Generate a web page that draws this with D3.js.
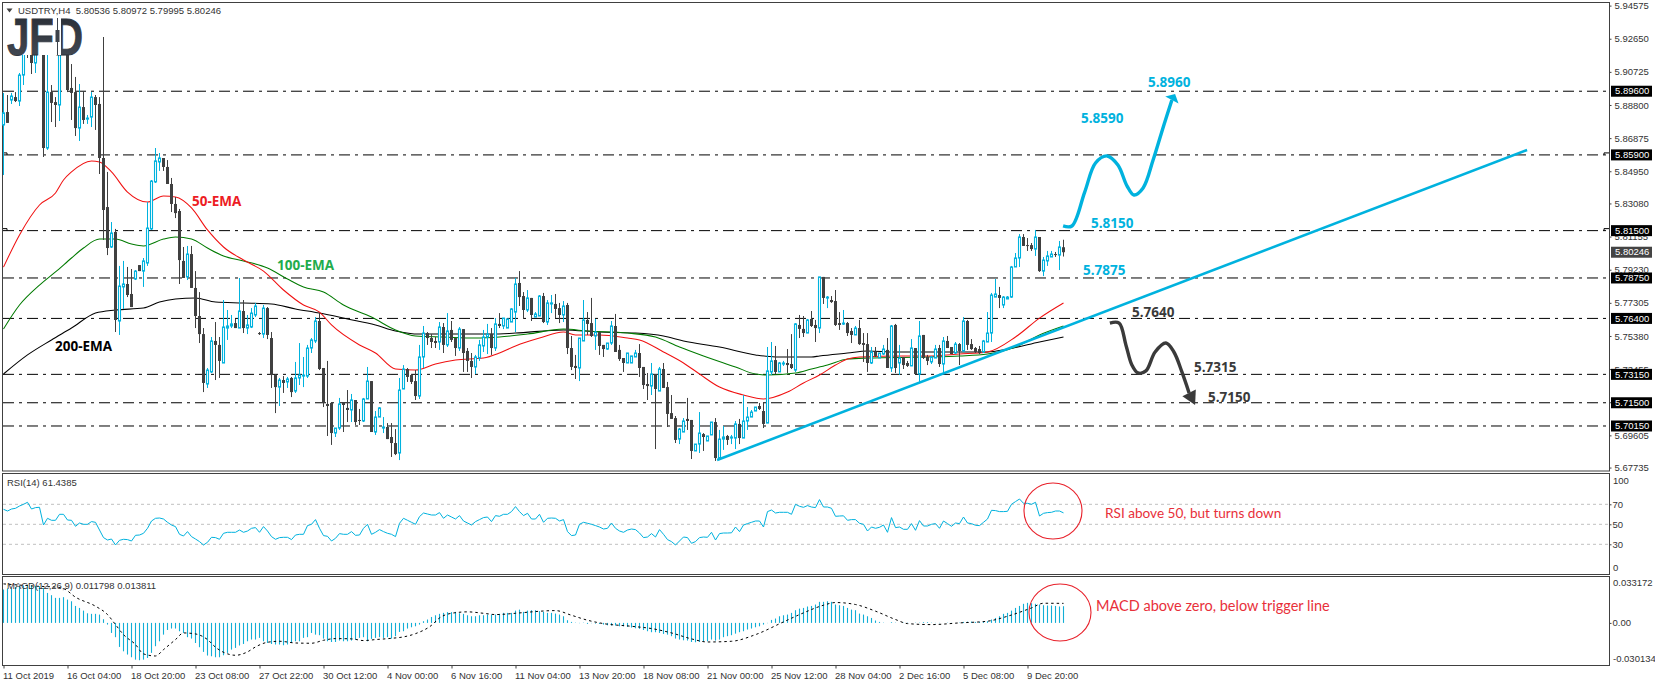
<!DOCTYPE html>
<html><head><meta charset="utf-8">
<style>html,body{margin:0;padding:0;background:#fff}svg{display:block}
text{font-family:"Liberation Sans",Arial,sans-serif}
.ax text{font-size:9.5px;fill:#333;font-family:"Liberation Sans",Arial,sans-serif}
.ax line,.ax path{stroke:#404040}
</style></head><body>
<script src="https://cdn.jsdelivr.net/npm/d3@7/dist/d3.min.js"></script>
<script>
const opens=[5.8764,5.8839,5.8909,5.8926,5.8903,5.9054,5.9316,5.9287,5.9124,5.9345,
5.9316,5.8630,5.8955,5.8897,5.8880,5.9316,5.9258,5.8979,5.8955,5.8746,
5.8868,5.8799,5.8810,5.8926,5.8886,5.8572,5.8287,5.8055,5.8142,5.7625,
5.7823,5.7840,5.7782,5.7869,5.7950,5.7915,5.7962,5.8160,5.8433,5.8549,
5.8572,5.8520,5.8421,5.8305,5.8264,5.7974,5.7881,5.8014,5.7817,5.7654,
5.7549,5.7259,5.7329,5.7509,5.7486,5.7381,5.7584,5.7596,5.7613,5.7584,
5.7683,5.7584,5.7590,5.7660,5.7555,5.7549,5.7700,5.7526,5.7311,5.7241,
5.7282,5.7271,5.7294,5.7218,5.7294,5.7305,5.7305,5.7468,5.7509,5.7625,
5.7352,5.7143,5.7149,5.6974,5.7003,5.7149,5.7120,5.7108,5.7166,5.7050,
5.7044,5.7172,5.7276,5.6980,5.7067,5.7003,5.7009,5.6951,5.6916,5.6858,
5.7230,5.7346,5.7311,5.7276,5.7189,5.7416,5.7555,5.7526,5.7509,5.7503,
5.7590,5.7486,5.7573,5.7526,5.7468,5.7578,5.7451,5.7393,5.7358,5.7410,
5.7480,5.7532,5.7549,5.7468,5.7608,5.7596,5.7584,5.7619,5.7677,5.7846,
5.7770,5.7689,5.7759,5.7648,5.7654,5.7770,5.7619,5.7724,5.7724,5.7700,
5.7660,5.7718,5.7468,5.7364,5.7352,5.7509,5.7631,5.7613,5.7538,5.7561,
5.7486,5.7462,5.7497,5.7596,5.7457,5.7410,5.7381,5.7381,5.7416,5.7439,
5.7358,5.7259,5.7247,5.7317,5.7218,5.7346,5.7241,5.7090,5.7061,5.6939,
5.6980,5.7056,5.7050,5.6870,5.6910,5.6968,5.6928,5.6963,5.7038,5.6829,
5.6939,5.6957,5.6945,5.6945,5.7027,5.6945,5.7044,5.7067,5.7102,5.7131,
5.7102,5.7032,5.7329,5.7398,5.7329,5.7375,5.7381,5.7375,5.7340,5.7602,
5.7579,5.7555,5.7637,5.7602,5.7584,5.7881,5.7759,5.7747,5.7741,5.7613,
5.7608,5.7613,5.7567,5.7544,5.7584,5.7497,5.7491,5.7381,5.7445,5.7410,
5.7433,5.7457,5.7352,5.7602,5.7381,5.7416,5.7381,5.7364,5.7468,5.7317,
5.7544,5.7416,5.7387,5.7410,5.7468,5.7375,5.7509,5.7474,5.7439,5.7491,
5.7451,5.7625,5.7491,5.7468,5.7462,5.7445,5.7503,5.7555,5.7764,5.7776,
5.7718,5.7753,5.7764,5.7939,5.7991,5.8113,5.8066,5.8066,5.8043,5.8113,
5.7915,5.7974,5.7997,5.8014,5.8008,5.80536];
const highs=[5.8950,5.8938,5.8950,5.8955,5.9066,5.9345,5.9345,5.9316,5.9287,5.9374,
5.9345,5.9229,5.8996,5.8926,5.9374,5.9362,5.9287,5.9118,5.9043,5.9002,
5.8961,5.8822,5.8955,5.8938,5.8926,5.9275,5.8491,5.8200,5.8160,5.7945,
5.7974,5.7939,5.7927,5.7921,5.7950,5.7991,5.8316,5.8444,5.8630,5.8601,
5.8572,5.8560,5.8456,5.8345,5.8276,5.8055,5.8061,5.8061,5.7915,5.7793,
5.7584,5.7352,5.7532,5.7619,5.7532,5.7747,5.7689,5.7660,5.7637,5.7875,
5.7747,5.7660,5.7700,5.7730,5.7561,5.7718,5.7706,5.7561,5.7317,5.7294,
5.7305,5.7300,5.7300,5.7387,5.7497,5.7416,5.7486,5.7526,5.7648,5.7671,
5.7352,5.7393,5.7149,5.7003,5.7178,5.7154,5.7224,5.7201,5.7166,5.7114,
5.7178,5.7358,5.7276,5.7102,5.7125,5.7067,5.7032,5.7032,5.6997,5.7294,
5.7369,5.7352,5.7317,5.7340,5.7486,5.7596,5.7561,5.7549,5.7532,5.7619,
5.7613,5.7671,5.7625,5.7526,5.7590,5.7578,5.7468,5.7439,5.7428,5.7515,
5.7573,5.7608,5.7584,5.7642,5.7671,5.7642,5.7637,5.7700,5.7875,5.7915,
5.7793,5.7805,5.7759,5.7677,5.7776,5.7788,5.7747,5.7776,5.7782,5.7730,
5.7741,5.7730,5.7538,5.7428,5.7526,5.7747,5.7677,5.7759,5.7637,5.7561,
5.7486,5.7497,5.7625,5.7666,5.7486,5.7410,5.7439,5.7422,5.7457,5.7491,
5.7358,5.7323,5.7381,5.7317,5.7358,5.7381,5.7271,5.7195,5.7073,5.7003,
5.7061,5.7178,5.7050,5.6910,5.7096,5.6974,5.6957,5.7038,5.7061,5.6992,
5.7015,5.6963,5.6963,5.7044,5.7056,5.7195,5.7125,5.7108,5.7125,5.7149,
5.7149,5.7474,5.7503,5.7480,5.7387,5.7393,5.7462,5.7549,5.7613,5.7660,
5.7654,5.7637,5.7683,5.7631,5.7881,5.7881,5.7770,5.7770,5.7805,5.7677,
5.7689,5.7619,5.7584,5.7596,5.7631,5.7555,5.7555,5.7474,5.7474,5.7439,
5.7486,5.7526,5.7602,5.7608,5.7486,5.7416,5.7393,5.7520,5.7468,5.7625,
5.7544,5.7428,5.7422,5.7486,5.7486,5.7532,5.7538,5.7474,5.7503,5.7497,
5.7648,5.7631,5.7520,5.7474,5.7480,5.7515,5.7677,5.7788,5.7869,5.7823,
5.7770,5.7770,5.7945,5.8020,5.8130,5.8130,5.8107,5.8078,5.8154,5.8113,
5.7997,5.8032,5.8032,5.8026,5.8090,5.80972];
const lows=[5.8473,5.8776,5.8886,5.8897,5.8874,5.8996,5.9153,5.9060,5.9066,5.9170,
5.8578,5.8619,5.8781,5.8752,5.8787,5.9170,5.8955,5.8793,5.8700,5.8671,
5.8770,5.8770,5.8752,5.8735,5.8479,5.8096,5.8008,5.8049,5.7561,5.7544,
5.7695,5.7764,5.7706,5.7863,5.7915,5.7823,5.7945,5.8154,5.8427,5.8497,
5.8497,5.8421,5.8258,5.8223,5.7840,5.7875,5.7863,5.7817,5.7584,5.7497,
5.7212,5.7236,5.7323,5.7282,5.7294,5.7381,5.7515,5.7584,5.7584,5.7584,
5.7555,5.7549,5.7584,5.7648,5.7544,5.7526,5.7520,5.7236,5.7090,5.7131,
5.7207,5.7236,5.7183,5.7207,5.7253,5.7241,5.7294,5.7439,5.7497,5.7340,
5.7125,5.6957,5.6905,5.6951,5.6992,5.6980,5.7038,5.7038,5.7021,5.7021,
5.7038,5.7172,5.6980,5.6963,5.7067,5.6974,5.6939,5.6835,5.6846,5.6817,
5.7230,5.7271,5.7259,5.7166,5.7172,5.7352,5.7486,5.7468,5.7468,5.7457,
5.7439,5.7474,5.7503,5.7422,5.7451,5.7329,5.7329,5.7294,5.7317,5.7393,
5.7445,5.7433,5.7428,5.7451,5.7584,5.7578,5.7584,5.7619,5.7561,5.7712,
5.7637,5.7677,5.7625,5.7648,5.7654,5.7613,5.7602,5.7671,5.7642,5.7613,
5.7619,5.7433,5.7340,5.7288,5.7276,5.7509,5.7544,5.7532,5.7457,5.7428,
5.7416,5.7457,5.7486,5.7445,5.7393,5.7329,5.7381,5.7381,5.7416,5.7300,
5.7230,5.7166,5.7195,5.6881,5.7218,5.7236,5.7009,5.7056,5.6916,5.6910,
5.6980,5.6992,5.6823,5.6870,5.6858,5.6870,5.6928,5.6963,5.6812,5.6817,
5.6876,5.6905,5.6910,5.6881,5.6910,5.6945,5.6992,5.7067,5.7102,5.7108,
5.7003,5.7032,5.7311,5.7317,5.7329,5.7364,5.7323,5.7346,5.7329,5.7526,
5.7532,5.7555,5.7590,5.7503,5.7555,5.7724,5.7700,5.7730,5.7596,5.7573,
5.7602,5.7538,5.7497,5.7544,5.7486,5.7387,5.7329,5.7375,5.7416,5.7410,
5.7428,5.7352,5.7329,5.7323,5.7311,5.7346,5.7358,5.7364,5.7317,5.7271,
5.7404,5.7369,5.7375,5.7410,5.7358,5.7323,5.7468,5.7433,5.7433,5.7369,
5.7445,5.7457,5.7457,5.7439,5.7433,5.7439,5.7503,5.7503,5.7764,5.7700,
5.7700,5.7753,5.7759,5.7939,5.7939,5.8061,5.8032,5.8032,5.8003,5.7910,
5.7886,5.7945,5.7997,5.7997,5.7921,5.79995];
const closes=[5.8834,5.8776,5.8932,5.8903,5.9054,5.9287,5.9200,5.9124,5.9258,5.9229,
5.8630,5.8955,5.8892,5.8880,5.9258,5.9200,5.8967,5.8950,5.8746,5.8868,
5.8793,5.8804,5.8926,5.8880,5.8572,5.8270,5.8049,5.8136,5.7631,5.7828,
5.7840,5.7776,5.7706,5.7915,5.7915,5.7974,5.8165,5.8438,5.8555,5.8572,
5.8520,5.8421,5.8305,5.8252,5.7979,5.7875,5.8014,5.7817,5.7654,5.7549,
5.7265,5.7340,5.7509,5.7486,5.7393,5.7590,5.7596,5.7608,5.7584,5.7683,
5.7584,5.7602,5.7671,5.7712,5.7549,5.7700,5.7544,5.7311,5.7241,5.7282,
5.7265,5.7288,5.7212,5.7294,5.7311,5.7311,5.7468,5.7515,5.7625,5.7346,
5.7149,5.7131,5.6974,5.7003,5.7143,5.7137,5.7108,5.7166,5.7038,5.7044,
5.7172,5.7276,5.6980,5.7067,5.7120,5.7009,5.6939,5.6916,5.6852,5.7224,
5.7346,5.7300,5.7271,5.7189,5.7416,5.7555,5.7526,5.7503,5.7497,5.7590,
5.7486,5.7567,5.7515,5.7468,5.7578,5.7439,5.7393,5.7358,5.7416,5.7486,
5.7532,5.7549,5.7468,5.7608,5.7596,5.7642,5.7637,5.7695,5.7840,5.7764,
5.7689,5.7759,5.7660,5.7666,5.7770,5.7619,5.7730,5.7730,5.7695,5.7660,
5.7712,5.7468,5.7358,5.7352,5.7526,5.7631,5.7608,5.7538,5.7561,5.7480,
5.7462,5.7497,5.7596,5.7445,5.7404,5.7381,5.7439,5.7422,5.7439,5.7352,
5.7253,5.7247,5.7317,5.7230,5.7346,5.7236,5.7085,5.7056,5.6934,5.6997,
5.7044,5.7044,5.6870,5.6910,5.6974,5.6951,5.6957,5.7038,5.6829,5.6939,
5.6951,5.6934,5.6951,5.7027,5.6945,5.7044,5.7067,5.7096,5.7125,5.7114,
5.7027,5.7335,5.7393,5.7329,5.7381,5.7381,5.7369,5.7352,5.7608,5.7579,
5.7555,5.7631,5.7596,5.7584,5.7881,5.7759,5.7764,5.7735,5.7602,5.7602,
5.7613,5.7555,5.7544,5.7584,5.7491,5.7486,5.7381,5.7445,5.7422,5.7439,
5.7462,5.7352,5.7596,5.7352,5.7410,5.7369,5.7364,5.7468,5.7317,5.7538,
5.7410,5.7393,5.7416,5.7462,5.7375,5.7509,5.7468,5.7433,5.7491,5.7451,
5.7625,5.7486,5.7462,5.7445,5.7439,5.7509,5.7555,5.7776,5.7782,5.7759,
5.7764,5.7764,5.7939,5.7991,5.8113,5.8061,5.8061,5.8043,5.8113,5.7915,
5.7979,5.8003,5.8014,5.8008,5.8055,5.80246];

const ema50Bars=[0,4,9,13,15,17,22,24,27,31,36,40,43,47,51,55,60,65,70,75,79,82,89,93,98,103,108,113,120,124,128,134,140,143,149,156,159,165,170,174,179,185,190,196,200,204,208,211,214,225,231,239,246,253,259,265];
const ema50=[5.7938,5.8125,5.8299,5.8369,5.8444,5.8491,5.8555,5.8549,5.8491,5.8374,5.8316,5.8351,5.8345,5.8282,5.8154,5.8055,5.7979,5.7915,5.7805,5.7718,5.7677,5.7602,5.7486,5.7439,5.7346,5.7340,5.7375,5.7398,5.7410,5.7439,5.7480,5.7526,5.7561,5.7544,5.7544,5.7526,5.7515,5.7445,5.7381,5.7317,5.7241,5.7195,5.7172,5.7212,5.7265,5.7311,5.7369,5.7404,5.7416,5.7422,5.7422,5.7433,5.7445,5.7532,5.7642,5.7730];
const ema100Bars=[0,4,9,13,17,20,24,28,32,35,40,43,47,51,55,60,66,71,75,80,85,92,98,103,110,118,124,131,140,146,156,163,169,175,183,188,191,198,202,206,211,216,231,239,246,253,259,265];
const ema100=[5.7579,5.7718,5.7834,5.7910,5.7991,5.8049,5.8101,5.8101,5.8072,5.8061,5.8101,5.8113,5.8101,5.8049,5.8003,5.7974,5.7933,5.7869,5.7823,5.7793,5.7718,5.7648,5.7573,5.7538,5.7532,5.7526,5.7532,5.7549,5.7578,5.7567,5.7555,5.7532,5.7474,5.7422,5.7358,5.7317,5.7311,5.7323,5.7346,5.7369,5.7404,5.7410,5.7416,5.7422,5.7433,5.7474,5.7544,5.7596];
const ema200Bars=[0,6,12,17,23,28,35,39,43,48,53,60,67,73,79,86,93,98,104,112,122,128,140,149,158,165,170,179,188,193,202,204,211,216,223,234,246,251,259,265];
const ema200=[5.7317,5.7428,5.7515,5.7584,5.7671,5.7689,5.7700,5.7735,5.7753,5.7759,5.7735,5.7730,5.7724,5.7695,5.7671,5.7637,5.7602,5.7567,5.7549,5.7549,5.7549,5.7555,5.7573,5.7561,5.7555,5.7538,5.7509,5.7474,5.7428,5.7416,5.7416,5.7422,5.7439,5.7451,5.7445,5.7445,5.7445,5.7462,5.7503,5.7532];

const rsi=[65,63.3,65.3,66,68.3,70,72,65.3,66.7,67,49.3,56,54,54,60,60,54.3,54,48,51.3,
50,50,52.7,52,44.3,36.7,34.3,35.3,29.3,34,35,34.7,33.3,39,39.3,41,46,53.3,56,56.3,
55.3,52,49.3,47.7,40,38.3,42.7,37.7,35.3,32.7,29.3,32,37,36.7,35,41,42,42,42,44.3,
42,43.3,46,46.7,42,47.7,43.3,37.7,35,36.7,37,37,34.7,39.3,40,40,48.7,50,54.7,46,
38.7,38,33.3,36,40.7,40,40,42.7,39,39.3,46,50,40,42,44.7,42.7,41,40,37.7,51,
56,54,52,50,57.7,61.3,60.3,59.3,59.3,61.7,56,59.3,57.3,55.3,58.7,53.3,51.3,49.3,52.7,54.7,
56.7,57.3,52.7,58.7,58,60,60,62.7,67.7,62.7,
58.7,61,55.3,55.3,60,52,56,56.3,56,53.3,54.7,42.7,38.7,39.3,50,52,51,50,48.7,47.3,
45.3,46,51.3,46,43.3,42,44.3,45.3,44.7,41.3,36.7,37.3,40.7,37.3,44.7,40,34.7,32.7,29.3,33.3,
37.3,36.7,31,32.7,36.7,37.3,37,42,34.3,40.7,41.3,41.3,41.5,47.3,42.7,49.3,50.7,52,53.3,53.3,
47.3,62.7,64.3,61.3,62,62,62,60,70,68,67,68.7,67.3,66.7,74.7,67.3,67.3,66,58,58.3,
58.5,54,54.7,54.7,51,50,43.3,47.3,46,47,49.3,42,56.7,46.7,47.3,45,45,50.7,44,53.7,
48.3,48.3,50,50.7,46,53.3,50.7,48,51.3,50.7,57.3,51.3,50.7,49,48.7,52,55.3,64,63.7,62.7,
62.7,63,70,72.7,75.3,71,71,70,72,58.3,61,61.7,62,63.3,63.3,61.4385];

const macdHist=[.0236,.0243,.0248,.0253,.0260,.0264,.0264,.0264,.0260,.0260,.0248,.0212,.0196,.0177,.0177,.0182,.0165,.0153,.0120,.0106,
.0087,.0068,.0064,.0064,.0059,.0026,-.0012,-.0071,-.0101,-.0170,-.0201,-.0224,-.0243,-.0260,-.0264,-.0260,-.0248,-.0212,-.0165,-.0130,
-.0083,-.0050,-.0040,-.0040,-.0059,-.0071,-.0101,-.0111,-.0142,-.0172,-.0205,-.0231,-.0236,-.0243,-.0243,-.0229,-.0212,-.0189,-.0177,-.0160,
-.0149,-.0130,-.0118,-.0118,-.0106,-.0130,-.0142,-.0149,-.0153,-.0153,-.0158,-.0153,-.0142,-.0130,-.0130,-.0106,-.0101,-.0071,-.0083,-.0087,
-.0111,-.0130,-.0135,-.0135,-.0125,-.0130,-.0130,-.0125,-.0118,-.0106,-.0101,-.0130,-.0113,-.0106,-.0101,-.0106,-.0101,-.0111,-.0094,-.0064,
-.0059,-.0040,-.0031,-.0024,-.0012,.0012,.0024,.0042,.0054,.0064,.0071,.0076,.0076,.0078,.0068,.0064,.0054,.0047,.0047,.0054,
.0054,.0059,.0059,.0059,.0064,.0071,.0071,.0071,.0087,.0094,
.0078,.0087,.0090,.0090,.0083,.0078,.0071,.0071,.0066,.0059,.0047,.0019,.0007,.0002,-.0002,.0002,-.0007,-.0002,-.0005,-.0007,
-.0012,-.0017,-.0019,-.0019,-.0024,-.0024,-.0028,-.0033,-.0038,-.0042,-.0050,-.0059,-.0066,-.0066,-.0071,-.0078,-.0083,-.0094,-.0111,-.0118,
-.0123,-.0125,-.0135,-.0137,-.0135,-.0130,-.0130,-.0118,-.0125,-.0118,-.0101,-.0094,-.0087,-.0076,-.0066,-.0059,-.0047,-.0040,-.0031,-.0024,
-.0012,-.0002,.0021,.0031,.0047,.0054,.0059,.0071,.0090,.0101,.0106,.0116,.0120,.0130,.0149,.0149,.0153,.0149,.0130,.0125,
.0120,.0106,.0094,.0090,.0066,.0059,.0047,.0035,.0017,.0007,.0002,0,.0005,.0002,0,.0002,.0002,0,.0002,.0002,
.0005,.0005,.0002,-.0002,-.0002,0,.0002,-.0002,0,.0002,.0007,.0009,.0009,.0007,.0007,.0009,.0012,.0024,.0035,.0047,
.0064,.0071,.0087,.0106,.0120,.0135,.0142,.0139,.0135,.0130,.0125,.0123,.0123,.0120,.0116,.011798];
const signalBars=[0,8,13,15,18,23,26,28,30,33,35,38,40,43,45,48,51,53,56,58,61,63,66,69,73,77,80,83,87,90,93,97,100,103,107,109,112,116,120,123,128,130,138,142,146,150,157,162,167,172,176,182,188,195,200,205,208,213,218,223,226,232,239,246,251,257,260,265];
const signal=[.0276,.0260,.0253,.0243,.0182,.0118,.0059,-.0012,-.0083,-.0153,-.0219,-.0234,-.0189,-.0118,-.0071,-.0078,-.0118,-.0172,-.0219,-.0229,-.0205,-.0170,-.0137,-.0130,-.0142,-.0144,-.0123,-.0111,-.0113,-.0125,-.0118,-.0109,-.0099,-.0076,-.0017,.0035,.0068,.0078,.0068,.0059,.0068,.0073,.0087,.0054,.0019,-.0005,-.0024,-.0040,-.0071,-.0113,-.0135,-.0130,-.0083,.0007,.0071,.0125,.0144,.0130,.0083,.0024,-.0005,-.0012,0,.0012,.0047,.0106,.0139,.013811];

const levels=[5.8960,5.8590,5.8150,5.7875,5.7640,5.7315,5.7150,5.7015];
const priceTicks=[5.94575,5.92650,5.90725,5.88800,5.86875,5.84950,5.83080,5.81155,5.79230,5.77305,5.75380,5.73455,5.71530,5.69605,5.67735];
const timeTickBars=[0,16,32,48,64,80,96,112,128,144,160,176,192,208,224,240,256];
const timeLabels=["11 Oct 2019","16 Oct 04:00","18 Oct 20:00","23 Oct 08:00","27 Oct 22:00","30 Oct 12:00","4 Nov 00:00","6 Nov 16:00","11 Nov 04:00","13 Nov 20:00","18 Nov 08:00","21 Nov 00:00","25 Nov 12:00","28 Nov 04:00","2 Dec 16:00","5 Dec 08:00","9 Dec 20:00"];
const rsiLevels=[70,50,30];
const trendBars=[178.4,380.9];
const trendPrices=[5.6817,5.8619];
const upArrowBars=[264.9,267.1,270.3,273,275.9,278.6,280.9,282.6,284.9,287.4,290.1,292.1];
const upArrowPrices=[5.8177,5.8177,5.8374,5.8543,5.8584,5.8531,5.8409,5.8357,5.8398,5.8560,5.8764,5.8909];
const upArrowTip=[292.9,5.8944];
const downArrowBars=[276.6,278.9,280.6,282.1,283.6,285.6,287.9,290.6,292.6,294.6,296.4];
const downArrowPrices=[5.7613,5.7613,5.7486,5.7369,5.7323,5.7335,5.7445,5.7497,5.7445,5.7329,5.7207];
const downArrowTip=[297.9,5.7137];

const W=1655,H=686,BLUE="#00b2de",DARK="#404040",R={l:2.5,r:1609.5};
const svg=d3.select("body").append("svg").attr("width",W).attr("height",H).attr("viewBox",`0 0 ${W} ${H}`);
const x=d3.scaleLinear().domain([0,400]).range([3.5,1603.5]);
const y=d3.scaleLinear().domain([5.94755,5.67535]).range([2.5,471]);
const yR=d3.scaleLinear().domain([0,100]).range([574.3,474.3]);
const yM=d3.scaleLinear().domain([-.030134,.033172]).range([665.5,576]);

// panels
[[2.5,471],[473.5,574.5],[576.5,665.5]].forEach(([a,b])=>{
  svg.append("rect").attr("x",R.l).attr("y",a).attr("width",R.r-R.l).attr("height",b-a).attr("fill","#fff").attr("stroke",DARK).attr("stroke-width",1);
});

// horizontal levels
svg.append("g").selectAll("line").data(levels).join("line")
 .attr("x1",3).attr("x2",R.r-1).attr("y1",d=>y(d)).attr("y2",d=>y(d))
 .attr("stroke","#000").attr("stroke-width",1).attr("stroke-dasharray","11,5,3,5");
[5.8590,5.8150].forEach(v=>{
  svg.append("path").attr("d",`M3,${y(v)-2}H7V${y(v)}`).attr("fill","none").attr("stroke","#000");
  svg.append("path").attr("d",`M1609,${y(v)-2}H1604V${y(v)}`).attr("fill","none").attr("stroke","#000");
});

// EMAs
const emaLine=d3.line().x(d=>x(d[0])).y(d=>y(d[1])).curve(d3.curveMonotoneX);
[[ema200Bars,ema200,"#000"],[ema100Bars,ema100,"#007a00"],[ema50Bars,ema50,"#f01010"]].forEach(([b,v,c])=>{
  svg.append("path").attr("d",emaLine(b.map((k,i)=>[k,v[i]]))).attr("fill","none").attr("stroke",c).attr("stroke-width",1.05);
});

// candles
const idx=d3.range(closes.length);
const cg=svg.append("g");
cg.selectAll("line").data(idx).join("line")
 .attr("x1",i=>x(i)).attr("x2",i=>x(i)).attr("y1",i=>y(highs[i])).attr("y2",i=>y(lows[i]))
 .attr("stroke",i=>closes[i]>=opens[i]?BLUE:DARK).attr("stroke-width",1);
cg.selectAll("rect").data(idx).join("rect")
 .attr("x",i=>closes[i]>=opens[i]?x(i)-1:x(i)-1.5)
 .attr("width",i=>closes[i]>=opens[i]?2:3)
 .attr("y",i=>y(Math.max(opens[i],closes[i])))
 .attr("height",i=>Math.max(1,y(Math.min(opens[i],closes[i]))-y(Math.max(opens[i],closes[i]))))
 .attr("fill",i=>closes[i]>=opens[i]?"#fff":DARK)
 .attr("stroke",i=>closes[i]>=opens[i]?BLUE:"none").attr("stroke-width",1.1);

// trend line
svg.append("line").attr("x1",x(trendBars[0])).attr("y1",y(trendPrices[0])).attr("x2",x(trendBars[1])).attr("y2",y(trendPrices[1]))
 .attr("stroke",BLUE).attr("stroke-width",2.6);

// arrows
const arrowLine=d3.line().x(d=>x(d[0])).y(d=>y(d[1])).curve(d3.curveCatmullRom.alpha(.5));
function arrow(b,p,tip,c){
  const pts=b.map((k,i)=>[k,p[i]]);
  svg.append("path").attr("d",arrowLine(pts)).attr("fill","none").attr("stroke",c).attr("stroke-width",3.4).attr("stroke-linecap","butt");
  const a=pts[pts.length-1],ax=x(a[0]),ay=y(a[1]),tx=x(tip[0]),ty=y(tip[1]);
  const dx=tx-ax,dy=ty-ay,L=Math.hypot(dx,dy),nx=-dy/L,ny=dx/L,w=7.5;
  svg.append("path").attr("d",`M${tx},${ty}L${ax+nx*w},${ay+ny*w}L${ax-nx*w},${ay-ny*w}Z`).attr("fill",c);
}
arrow(upArrowBars,upArrowPrices,upArrowTip,BLUE);
arrow(downArrowBars,downArrowPrices,downArrowTip,"#3a3a3a");

// logo
svg.append("rect").attr("x",7).attr("y",18).attr("width",76).attr("height",37).attr("fill","#fff");
const defs=svg.append("defs");
const grad=defs.append("linearGradient").attr("id","lg").attr("x1",0).attr("x2",0).attr("y1",0).attr("y2",1);
grad.append("stop").attr("offset",0).attr("stop-color","#262b33");
grad.append("stop").attr("offset",1).attr("stop-color","#474d57");
svg.append("text").text("JFD").attr("x",7).attr("y",54.5).attr("textLength",76).attr("lengthAdjust","spacingAndGlyphs")
 .attr("font-family","Liberation Sans").attr("font-weight","700").attr("font-size",51).attr("fill","url(#lg)").attr("stroke","#30353d").attr("stroke-width",.8);
svg.append("rect").attr("x",53).attr("y",18).attr("width",8).attr("height",37).attr("fill","#fff");
svg.append("rect").attr("x",57).attr("y",18).attr("width",1).attr("height",37).attr("fill","#3c424b");
svg.append("rect").attr("x",55.5).attr("y",30).attr("width",4).attr("height",12).attr("fill","#3c424b");

// annotations in main panel
const boldLabels=[["50-EMA",192,201,"#ed1c24"],["100-EMA",277,265,"#22ac4c"],["200-EMA",55,346,"#000"],
 ["5.8960",1148,82,BLUE],["5.8590",1081,118,BLUE],["5.8150",1091,223,BLUE],["5.7875",1083,270,BLUE],
 ["5.7640",1132,312,"#3a3a3a"],["5.7315",1194,367,"#3a3a3a"],["5.7150",1208,397,"#3a3a3a"]];
svg.append("g").selectAll("text").data(boldLabels).join("text")
 .attr("x",d=>d[1]).attr("y",d=>d[2]).attr("dy","0.35em").text(d=>d[0]).attr("fill",d=>d[3])
 .attr("font-size",13.5).attr("font-weight",700).style("font-family","'Open Sans',sans-serif");

// price axis
const pa=svg.append("g").attr("class","ax").attr("transform",`translate(${R.r},0)`)
 .call(d3.axisRight(y).tickValues(priceTicks).tickFormat(d3.format(".5f")).tickSize(2).tickPadding(3));
pa.select(".domain").remove();

// level tags
function tag(v,fill){
  const g=svg.append("g");
  g.append("rect").attr("x",1611).attr("y",y(v)-5.5).attr("width",41).attr("height",11).attr("fill",fill);
  g.append("text").attr("x",1615).attr("y",y(v)).attr("dy","0.34em").attr("font-size",9.5).attr("fill","#fff").text(d3.format(".5f")(v));
}
levels.forEach(v=>tag(v,"#000"));
tag(closes[closes.length-1],"#444");

// RSI
svg.append("g").selectAll("line").data(rsiLevels).join("line")
 .attr("x1",3).attr("x2",R.r-1).attr("y1",d=>yR(d)).attr("y2",d=>yR(d))
 .attr("stroke","#c0c0c0").attr("stroke-dasharray","3,3");
svg.append("path").attr("d",d3.line().x((d,i)=>x(i)).y(d=>yR(d))(rsi)).attr("fill","none").attr("stroke",BLUE).attr("stroke-width",1);
const ra=svg.append("g").attr("class","ax").attr("transform",`translate(${R.r},0)`)
 .call(d3.axisRight(yR).tickValues([70,50,30]).tickSize(2).tickPadding(1));
ra.select(".domain").remove();
[[100,480.7],[0,567.5]].forEach(([t,py])=>svg.append("text").attr("x",1613).attr("y",py).attr("dy","0.34em").attr("font-size",9.5).attr("fill","#333").text(t));

// MACD
svg.append("g").selectAll("line").data(macdHist).join("line")
 .attr("x1",(d,i)=>x(i)).attr("x2",(d,i)=>x(i)).attr("y1",yM(0)).attr("y2",d=>yM(d))
 .attr("stroke","#12aed6").attr("stroke-width",1.1);
svg.append("path").attr("d",d3.line().x(d=>x(d[0])).y(d=>yM(d[1])).curve(d3.curveMonotoneX)(signalBars.map((k,i)=>[k,signal[i]])))
 .attr("fill","none").attr("stroke","#000").attr("stroke-width",1).attr("stroke-dasharray","2.5,3");
const ma=svg.append("g").attr("class","ax").attr("transform",`translate(${R.r},0)`)
 .call(d3.axisRight(yM).tickValues([0]).tickFormat(()=>"0.00").tickSize(2).tickPadding(1));
ma.select(".domain").remove();
[["0.033172",583],["-0.030134",658.5]].forEach(([t,py])=>svg.append("text").attr("x",1613).attr("y",py).attr("dy","0.34em").attr("font-size",9.5).attr("fill","#333").text(t));

// time axis
const ta=svg.append("g").attr("class","ax").attr("transform","translate(0,665.5)")
 .call(d3.axisBottom(x).tickValues(timeTickBars).tickFormat((d,i)=>timeLabels[i]).tickSize(3).tickPadding(4));
ta.select(".domain").remove();
ta.selectAll("text").attr("text-anchor","start").attr("dx",-1);

// captions
svg.append("path").attr("d","M6.5,8.5H12.5L9.5,12.5Z").attr("fill","#404040");
[["USDTRY,H4  5.80536 5.80972 5.79995 5.80246",18,11],["RSI(14) 61.4385",7,482.7],["MACD(12,26,9) 0.011798 0.013811",7,585.6]]
 .forEach(([t,tx,ty])=>svg.append("text").attr("x",tx).attr("y",ty).attr("dy","0.34em").attr("font-size",9.5).attr("fill","#333").style("white-space","pre").text(t));

// circled notes
[[1053,511,29,28],[1060,612.5,31,28.5]].forEach(([cx,cy,rx,ry])=>svg.append("ellipse").attr("cx",cx).attr("cy",cy).attr("rx",rx).attr("ry",ry).attr("fill","none").attr("stroke","#e8202a").attr("stroke-width",1.1));
[["RSI above 50, but turns down",1105,513,13.6],["MACD above zero, below trigger line",1096,606,14.5]]
 .forEach(([t,tx,ty,fs])=>svg.append("text").attr("x",tx).attr("y",ty).attr("dy","0.35em").attr("fill","#e8303a").attr("font-size",fs).style("font-family","Lato,sans-serif").text(t));
</script></body></html>
